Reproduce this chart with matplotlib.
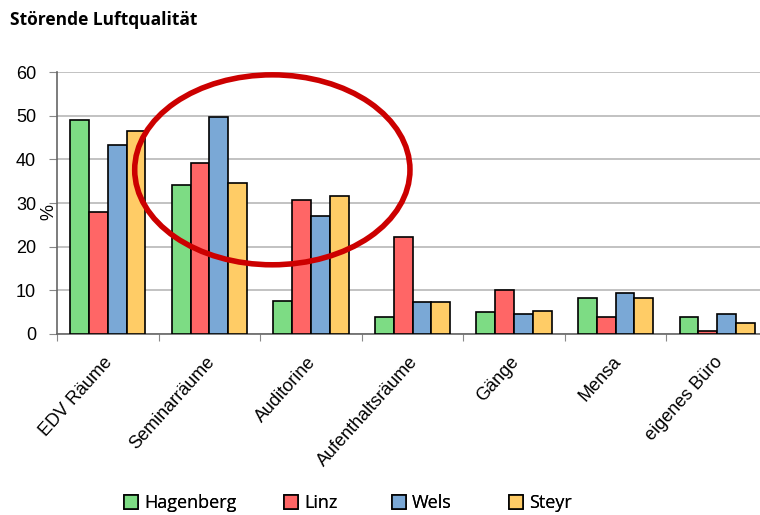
import numpy as np
import matplotlib
matplotlib.use("Agg")
import matplotlib.pyplot as plt
from matplotlib.patches import Ellipse

# Daten
kategorien = ["EDV Räume", "Seminarräume", "Auditorine", "Aufenthaltsräume",
              "Gänge", "Mensa", "eigenes Büro"]
hagenberg = [49.0, 34.1, 7.5, 4.0, 5.0, 8.2, 4.0]
linz = [27.9, 39.1, 30.8, 22.2, 10.0, 4.0, 0.8]
wels = [43.3, 49.8, 27.1, 7.4, 4.6, 9.5, 4.6]
steyr = [46.5, 34.6, 31.7, 7.4, 5.3, 8.2, 2.6]
serien = ["Hagenberg", "Linz", "Wels", "Steyr"]
farben = ["#7ddc84", "#ff6666", "#7aa8d6", "#ffcc66"]

fig = plt.figure(figsize=(7.6, 5.15), dpi=100)
ax = fig.add_axes([57/760, (515-334)/515, 711/760, 262/515])

x = np.arange(len(kategorien))
w = 0.185
handles = []
for i, (werte, name, c) in enumerate(zip([hagenberg, linz, wels, steyr], serien, farben)):
    b = ax.bar(x + (i - 1.5) * w, werte, w, color=c, edgecolor="black", linewidth=1.2,
               label=name, zorder=3)
    handles.append(b)

ax.set_xlim(-0.5, len(kategorien) - 0.5)
ax.set_ylim(0, 60)
ax.set_yticks(range(0, 61, 10))
ax.yaxis.grid(True, color="#b8b8b8", linewidth=1.2, zorder=0)
ax.set_axisbelow(True)
ax.set_xticks(np.arange(len(kategorien) + 1) - 0.5)
ax.set_xticklabels([])
ax.tick_params(axis="x", length=5, color="#888888")
ax.tick_params(axis="y", length=6, color="#888888", labelsize=13, pad=9)
for s in ["top", "right"]:
    ax.spines[s].set_visible(False)
ax.spines["left"].set_color("#666666")
ax.spines["bottom"].set_color("#666666")
ax.spines["left"].set_linewidth(1.2)
ax.spines["bottom"].set_linewidth(1.2)
for lab in ax.get_yticklabels():
    lab.set_fontfamily("Liberation Sans")

for xi, k in zip(x, kategorien):
    ax.text(xi - 0.04, -4.5, k, rotation=48, ha="right", va="top",
            rotation_mode="anchor", fontsize=13, family="Liberation Sans")

ax.text(-0.012, 28, "%", rotation=90, ha="center", va="center", fontsize=13,
        family="Liberation Sans", transform=ax.get_yaxis_transform())

# roter Kreis (Markierung)
ax.add_patch(Ellipse((1.62, 37.6), 2.71, 43.5, fill=False, edgecolor="#cc0000",
                     linewidth=4, zorder=5, clip_on=False))

fig.text(10/760, 1 - 20/515, "Störende Luftqualität", fontsize=12.5,
         fontweight="bold", family="Open Sans", va="center")

# Legende: Einträge einzeln platzieren wie im Original
leg_x = [124, 284, 392, 509]
for h, name, lx in zip(handles, serien, leg_x):
    lg = fig.legend([h], [name], loc="center left", bbox_to_anchor=(lx/760, 1 - 503/515),
                    frameon=False, handlelength=0.8, handleheight=0.8, borderpad=0,
                    borderaxespad=0, handletextpad=0.3,
                    prop={"family": "Open Sans", "size": 13})
    fig.add_artist(lg)

fig.savefig("out.png", dpi=100)
